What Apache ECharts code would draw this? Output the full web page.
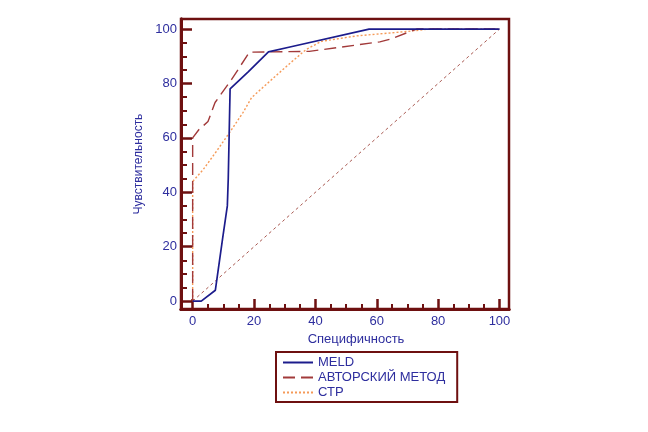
<!DOCTYPE html>
<html>
<head>
<meta charset="utf-8">
<script src="https://cdn.jsdelivr.net/npm/echarts@6/dist/echarts.min.js"></script>
<style>
html, body { margin: 0; padding: 0; background: #fff; }
#chart { width: 648px; height: 432px; }
</style>
</head>
<body>
<div id="chart"></div>
<script>
var majorTicks = [0, 20, 40, 60, 80, 100];
var minorTicks = [5, 10, 15, 25, 30, 35, 45, 50, 55, 65, 70, 75, 85, 90, 95];

var meld = [[0, 0], [2.8, 0], [7.4, 4], [9.7, 22.5], [11.3, 35], [11.6, 45], [12.2, 78],
	[18.1, 84.3], [24.7, 91.6], [31.7, 93.4], [57.5, 100], [100, 100]];
var author = [[0, 0], [0, 60], [2, 63], [5, 66], [7.3, 73], [12.7, 81.5], [18.5, 91.5],
	[38, 91.8], [61, 95.3], [64.4, 96.3], [73, 100], [100, 100]];
var ctp = [[0, 0], [0, 44], [3.4, 48.3], [7.7, 55], [12, 61.9], [16.4, 69.3], [19.2, 74.8],
	[25.8, 81.5], [32, 87.7], [37, 92.5], [42, 95.5], [53.5, 97.5], [69.8, 99.1], [77, 100], [100, 100]];
var diag = [[0, 0], [100, 100]];

var frameColor = '#6e1010';
var textColor = '#2e2e9e';

var myChart = echarts.init(document.getElementById('chart'));

function axisBase(extra) {
	var a = {
		type: 'value',
		min: -3.8,
		max: 103.1,
		splitLine: { show: false },
		axisLine: { show: true, onZero: false, lineStyle: { color: frameColor, width: 3 } }
	};
	for (var k in extra) a[k] = extra[k];
	return a;
}

var option = {
	animation: false,
	grid: {
		left: 181,
		right: 139,
		top: 19,
		bottom: 123,
		show: true,
		borderColor: frameColor,
		borderWidth: 2.5
	},
	legend: {
		orient: 'vertical',
		left: 276,
		top: 352,
		itemWidth: 30,
		itemHeight: 10,
		itemGap: 2,
		padding: [4, 12, 3, 6],
		borderColor: frameColor,
		borderWidth: 2,
		itemStyle: { opacity: 0 },
		textStyle: { color: textColor, fontSize: 13, fontFamily: 'Liberation Sans, Arial' },
		data: ['MELD', 'АВТОРСКИЙ МЕТОД', 'СТР']
	},
	xAxis: [
		axisBase({
			position: 'bottom',
			name: 'Специфичность',
			nameLocation: 'middle',
			nameGap: 22,
			nameTextStyle: { color: textColor, fontSize: 13, fontFamily: 'Liberation Sans, Arial', padding: [0, 0, 0, 22] },
			axisTick: { show: true, inside: true, length: 10, customValues: majorTicks, lineStyle: { color: frameColor, width: 2.5 } },
			axisLabel: { show: true, margin: 6, customValues: majorTicks, color: textColor, fontSize: 13, fontFamily: 'Liberation Sans, Arial' }
		}),
		axisBase({
			position: 'bottom',
			axisTick: { show: true, inside: true, length: 5, customValues: minorTicks, lineStyle: { color: frameColor, width: 2 } },
			axisLabel: { show: false }
		})
	],
	yAxis: [
		axisBase({
			min: -2.9,
			max: 103.7,
			position: 'left',
			axisTick: { show: true, inside: true, length: 11, customValues: majorTicks, lineStyle: { color: frameColor, width: 2.5 } },
			axisLabel: { show: true, margin: 4, customValues: majorTicks, color: textColor, fontSize: 13, fontFamily: 'Liberation Sans, Arial' }
		}),
		axisBase({
			min: -2.9,
			max: 103.7,
			position: 'left',
			name: 'Чувствительность',
			nameLocation: 'middle',
			nameGap: 36,
			nameTextStyle: { color: textColor, fontSize: 12, fontFamily: 'Liberation Sans, Arial' },
			axisTick: { show: true, inside: true, length: 6, customValues: minorTicks, lineStyle: { color: frameColor, width: 2 } },
			axisLabel: { show: false }
		})
	],
	series: [{
		name: 'Диагональ',
		type: 'line',
		data: diag,
		symbol: 'none',
		silent: true,
		lineStyle: { color: '#a85850', width: 1, type: [3, 3] },
		z: 1
	}, {
		name: 'СТР',
		type: 'line',
		data: ctp,
		symbol: 'none',
		lineStyle: { color: '#f59a58', width: 1.4, type: [2, 2] },
		itemStyle: { color: '#f59a58' },
		z: 2
	}, {
		name: 'АВТОРСКИЙ МЕТОД',
		type: 'line',
		data: author,
		symbol: 'none',
		lineStyle: { color: '#a23a3a', width: 1.4, type: [12, 6] },
		itemStyle: { color: '#a23a3a' },
		z: 3
	}, {
		name: 'MELD',
		type: 'line',
		data: meld,
		symbol: 'none',
		lineStyle: { color: '#1c1c8c', width: 1.7 },
		itemStyle: { color: '#1c1c8c' },
		z: 4
	}]
};

myChart.setOption(option);
</script>
</body>
</html>
